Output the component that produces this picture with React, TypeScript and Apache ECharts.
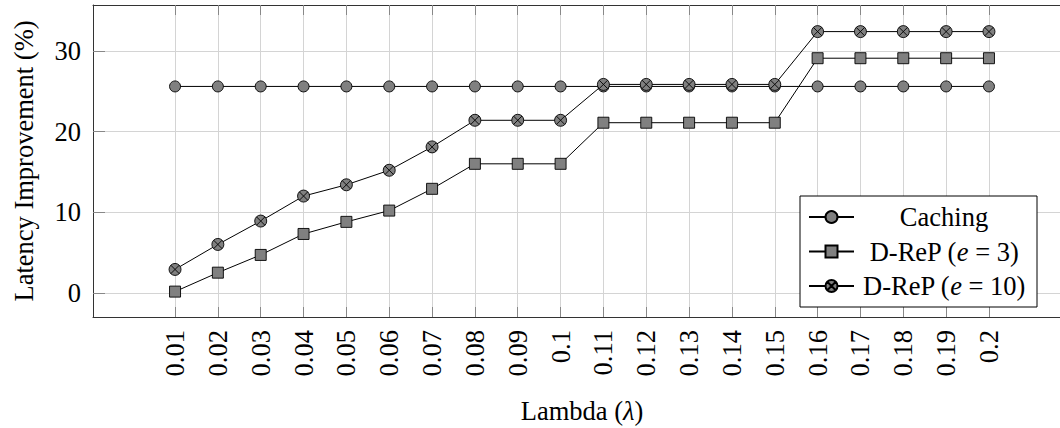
import React, { useEffect, useRef } from 'react';
import * as echarts from 'echarts';

const lambdas = [0.01, 0.02, 0.03, 0.04, 0.05, 0.06, 0.07, 0.08, 0.09, 0.1, 0.11, 0.12, 0.13, 0.14, 0.15, 0.16, 0.17, 0.18, 0.19, 0.2];
const tickLabels = ['0.01', '0.02', '0.03', '0.04', '0.05', '0.06', '0.07', '0.08', '0.09', '0.1', '0.11', '0.12', '0.13', '0.14', '0.15', '0.16', '0.17', '0.18', '0.19', '0.2'];
const caching = [25.6, 25.6, 25.6, 25.6, 25.6, 25.6, 25.6, 25.6, 25.6, 25.6, 25.6, 25.6, 25.6, 25.6, 25.6, 25.6, 25.6, 25.6, 25.6, 25.6];
const drep3 = [0.15, 2.5, 4.7, 7.3, 8.8, 10.2, 12.9, 16.0, 16.0, 16.0, 21.1, 21.1, 21.1, 21.1, 21.1, 29.1, 29.1, 29.1, 29.1, 29.1];
const drep10 = [2.9, 6.0, 8.9, 12.0, 13.4, 15.2, 18.1, 21.4, 21.4, 21.4, 25.85, 25.85, 25.85, 25.85, 25.85, 32.4, 32.4, 32.4, 32.4, 32.4];
const yTicks = [0, 10, 20, 30];
const seriesNames = ['Caching', 'D-ReP (e = 3)', 'D-ReP (e = 10)'];

const FONT = 'Liberation Serif';
const FS = 26.5;
const X_MIN = -0.00915;
const X_MAX = 0.21915;
const Y_MIN = -3;
const Y_MAX = 35.7;

const crossCircle =
  'path://M0,-10A10,10,0,1,1,0,10A10,10,0,1,1,0,-10ZM-7.07,-7.07L7.07,7.07M-7.07,7.07L7.07,-7.07';

function pairs(vals: number[]) {
  return lambdas.map((l, i) => [l, vals[i]]);
}

function labelFor(v: number) {
  let best = 0;
  for (let i = 1; i < lambdas.length; i++) {
    if (Math.abs(lambdas[i] - v) < Math.abs(lambdas[best] - v)) best = i;
  }
  return tickLabels[best];
}

export default function App() {
  const ref = useRef<HTMLDivElement>(null);
  useEffect(() => {
    if (!ref.current) return;
    const chart = echarts.init(ref.current, undefined, { renderer: 'svg' });
    const markerStyle = { color: '#808080', borderColor: '#000', borderWidth: 0.9 };
    const lineStyle = { color: '#000', width: 1 };
    const option: any = {
      animation: false,
      textStyle: { fontFamily: FONT },
      grid: { left: 93, top: 5, right: -11, bottom: 111, containLabel: false, outerBoundsMode: 'none' },
      legend: {
        orient: 'vertical',
        left: 800,
        top: 196,
        padding: [6, 8, 6, 8],
        itemGap: 4.5,
        itemWidth: 45,
        itemHeight: 15,
        backgroundColor: '#fff',
        borderColor: '#000',
        borderWidth: 1,
        borderRadius: 0,
        selectedMode: false,
        data: seriesNames,
        textStyle: {
          fontFamily: FONT,
          fontSize: FS,
          color: '#000',
          width: 170,
          lineHeight: 30,
          rich: {
            c: { fontFamily: FONT, fontSize: FS, color: '#000', align: 'center', lineHeight: 30 },
            i: { fontFamily: FONT, fontSize: FS, color: '#000', fontStyle: 'italic', align: 'center', lineHeight: 30 },
          },
        },
        formatter: (name: string) => {
          const m = name.match(/^(.*\()e( = .*)$/);
          if (m) return `{c|${m[1]}}{i|e}{c|${m[2]}}`;
          return `{c|${name}}`;
        },
      },
      xAxis: [
        {
          type: 'value',
          min: X_MIN,
          max: X_MAX,
          position: 'bottom',
          name: '{a|Lambda (}{i|λ}{a|)}',
          nameLocation: 'middle',
          nameGap: 80,
          nameTextStyle: {
            rich: {
              a: { fontFamily: FONT, fontSize: FS, color: '#000' },
              i: { fontFamily: FONT, fontSize: FS, color: '#000', fontStyle: 'italic' },
            },
          },
          axisLine: { show: true, onZero: false, lineStyle: { color: '#333', width: 1 } },
          axisTick: { show: true, inside: true, length: 10, customValues: lambdas, lineStyle: { color: '#888', width: 1 } },
          axisLabel: {
            customValues: lambdas,
            rotate: 90,
            margin: 13,
            fontFamily: FONT,
            fontSize: FS,
            color: '#000',
            formatter: (v: number) => labelFor(v),
          },
          splitLine: { show: true, lineStyle: { color: '#d4d4d4', width: 1 } },
        },
        {
          type: 'value',
          min: X_MIN,
          max: X_MAX,
          position: 'top',
          axisLine: { show: true, onZero: false, lineStyle: { color: '#333', width: 1 } },
          axisTick: { show: true, inside: true, length: 10, customValues: lambdas, lineStyle: { color: '#888', width: 1 } },
          axisLabel: { show: false },
          splitLine: { show: false },
        },
      ],
      yAxis: {
        type: 'value',
        min: Y_MIN,
        max: Y_MAX,
        name: 'Latency Improvement (%)',
        nameLocation: 'middle',
        nameGap: 56,
        nameTextStyle: { fontFamily: FONT, fontSize: FS, color: '#000' },
        axisLine: { show: true, onZero: false, lineStyle: { color: '#333', width: 1 } },
        axisTick: { show: true, inside: true, length: 12, customValues: yTicks, lineStyle: { color: '#888', width: 1 } },
        axisLabel: { customValues: yTicks, margin: 12, fontFamily: FONT, fontSize: FS, color: '#000' },
        splitLine: { show: true, lineStyle: { color: '#d4d4d4', width: 1 } },
      },
      series: [
        {
          name: seriesNames[0],
          type: 'line',
          data: pairs(caching),
          symbol: 'circle',
          symbolSize: 11,
          itemStyle: markerStyle,
          lineStyle,
        },
        {
          name: seriesNames[1],
          type: 'line',
          data: pairs(drep3),
          symbol: 'rect',
          symbolSize: 11,
          itemStyle: markerStyle,
          lineStyle,
        },
        {
          name: seriesNames[2],
          type: 'line',
          data: pairs(drep10),
          symbol: crossCircle,
          symbolSize: 12,
          itemStyle: markerStyle,
          lineStyle,
        },
      ],
    };
    chart.setOption(option);
    return () => chart.dispose();
  }, []);
  return <div ref={ref} style={{ position: 'absolute', left: 0, top: 0, width: 1060, height: 428 }} />;
}
